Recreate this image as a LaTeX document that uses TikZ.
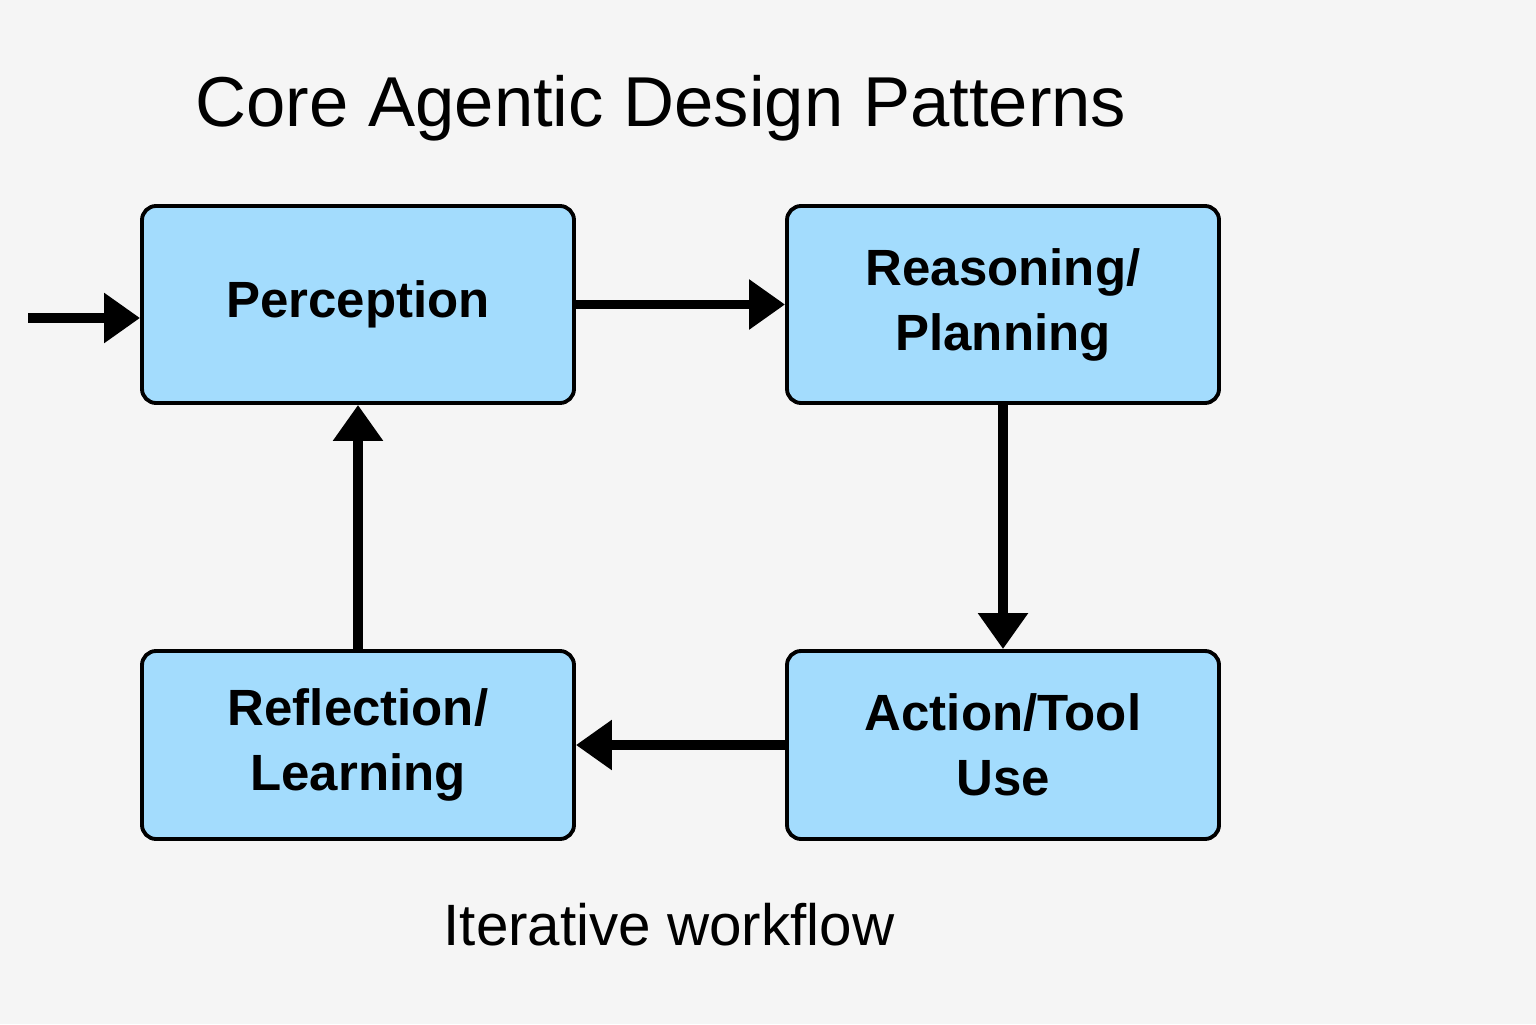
\documentclass[tikz,border=0pt]{standalone}
\usepackage{fontspec}
\setmainfont{Liberation Sans}
\usetikzlibrary{arrows.meta}
\definecolor{pagebg}{HTML}{F5F5F5}
\definecolor{boxblue}{HTML}{A3DCFD}
\tikzset{
  patbox/.style={draw=black, line width=1.1pt, fill=boxblue, rounded corners=4pt,
    minimum width=4.32cm, align=center, font=\fontsize{14.5}{18.5}\selectfont\bfseries},
  flow/.style={line width=2.6pt, -{Triangle[length=0.36cm,width=0.48cm]}}
}
\begin{document}
\begin{tikzpicture}
  			% page
  			\fill[pagebg] (0,0) rectangle (15.36,10.24);
  			\useasboundingbox (0,0) rectangle (15.36,10.24);
  			% title and caption
  			\node[anchor=base, font=\fontsize{20.1}{24}\selectfont] (title) at (6.61,8.97) {Core Agentic Design Patterns};
  			\node[font=\fontsize{16.6}{20}\selectfont] (caption) at (6.69,0.99) {Iterative workflow};
  			% the four patterns
  			\node[patbox, minimum height=1.97cm] (perc) at (3.58,7.195) {Perception};
  			\node[patbox, minimum height=1.97cm] (plan) at (10.03,7.195) {Reasoning/\\Planning};
  			\node[patbox, minimum height=1.88cm] (act) at (10.03,2.79) {Action/Tool\\Use};
  			\node[patbox, minimum height=1.88cm] (refl) at (3.58,2.79) {Reflection/\\Learning};
  			% input arrow
  			\coordinate (input) at (0.28,7.06);
  			\draw[flow] (input) -- (perc.west |- input);
  			% the loop
  			\draw[flow] (perc) -- (plan);
  			\draw[flow] (plan) -- (act);
  			\draw[flow] (act) -- (refl);
  			\draw[flow] (refl) -- (perc);
\end{tikzpicture}
\end{document}
